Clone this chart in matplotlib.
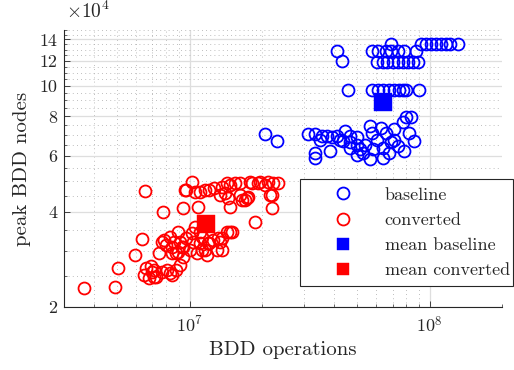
import matplotlib
matplotlib.use("Agg")
import matplotlib.pyplot as plt
from matplotlib.ticker import FixedLocator, NullFormatter, LogLocator

plt.rcParams['font.family'] = ['cmr10', 'DejaVu Serif']
plt.rcParams['mathtext.fontset'] = 'cm'
plt.rcParams['axes.formatter.use_mathtext'] = True

# ---- data ----
baseline_ops = [
    4.12e7, 4.32e7, 6.87e7,
    5.77e7, 6.12e7, 6.55e7, 6.87e7, 7.35e7, 7.78e7, 8.74e7,
    6.06e7, 6.36e7, 6.67e7, 7.00e7, 7.35e7, 7.71e7, 8.09e7, 8.49e7, 8.91e7,
    9.17e7, 9.62e7, 10.1e7, 10.6e7, 11.1e7, 11.7e7, 12.2e7, 13.1e7,
    4.58e7, 5.77e7, 6.12e7, 6.42e7, 6.74e7, 7.07e7, 7.42e7, 7.71e7, 7.94e7, 8.99e7,
    2.06e7, 2.31e7, 3.12e7, 3.33e7, 3.57e7, 3.74e7, 3.93e7, 4.12e7, 4.45e7, 4.67e7,
    5.00e7, 3.33e7, 3.33e7, 3.85e7, 4.67e7, 5.00e7, 5.14e7, 5.40e7, 5.66e7, 5.77e7,
    6.06e7, 6.24e7, 6.42e7, 6.55e7, 6.87e7, 6.74e7, 7.07e7, 7.35e7, 7.71e7, 7.94e7,
    8.33e7, 8.17e7, 8.57e7, 7.78e7, 5.66e7, 6.42e7, 5.30e7, 5.00e7, 7.07e7, 5.83e7,
    4.37e7, 4.67e7, 3.50e7, 4.24e7,
]
baseline_nodes = [
    12.9e4, 12.0e4, 13.5e4,
    12.9e4, 12.9e4, 12.9e4, 12.9e4, 12.9e4, 12.9e4, 12.9e4,
    11.9e4, 11.9e4, 11.9e4, 11.9e4, 11.9e4, 11.9e4, 11.9e4, 11.9e4, 11.9e4,
    13.5e4, 13.5e4, 13.5e4, 13.5e4, 13.5e4, 13.5e4, 13.5e4, 13.5e4,
    9.66e4, 9.66e4, 9.66e4, 9.66e4, 9.66e4, 9.66e4, 9.66e4, 9.66e4, 9.66e4, 9.66e4,
    7.02e4, 6.71e4, 7.02e4, 7.02e4, 6.92e4, 6.92e4, 6.87e4, 6.92e4, 7.17e4, 6.92e4,
    6.87e4, 6.15e4, 5.93e4, 6.20e4, 6.38e4, 6.52e4, 6.29e4, 6.52e4, 7.44e4, 7.11e4,
    6.76e4, 7.38e4, 6.38e4, 7.11e4, 6.62e4, 6.15e4, 7.28e4, 6.43e4, 7.66e4, 7.94e4,
    7.94e4, 7.11e4, 6.67e4, 6.20e4, 5.85e4, 5.93e4, 6.15e4, 6.06e4, 6.76e4, 6.29e4,
    6.67e4, 6.62e4, 6.76e4, 6.76e4,
]
converted_ops = [
    3.64e6, 4.90e6, 5.05e6, 5.94e6, 6.36e6, 6.54e6, 6.61e6, 6.48e6, 6.80e6, 7.14e6,
    7.28e6, 6.94e6, 7.71e6, 8.09e6, 8.41e6, 8.82e6, 9.08e6, 7.78e6, 7.49e6, 7.71e6,
    8.01e6, 8.25e6, 8.49e6, 8.91e6, 9.08e6, 9.35e6, 8.82e6, 9.35e6, 1.00e7, 1.03e7,
    1.05e7, 1.07e7, 1.10e7, 1.13e7, 1.18e7, 1.21e7, 1.25e7, 1.30e7, 1.36e7, 1.37e7,
    1.43e7, 1.47e7, 1.02e7, 9.71e6, 9.35e6, 1.08e7, 1.47e7, 1.87e7, 2.20e7, 9.71e6,
    1.02e7, 1.05e7, 1.10e7, 1.155e7, 1.21e7, 1.27e7, 1.335e7, 1.37e7, 1.43e7, 1.47e7,
    1.54e7, 1.44e7, 1.40e7, 1.62e7, 1.70e7, 1.75e7, 1.82e7, 1.93e7, 2.06e7, 2.12e7,
    2.23e7, 2.33e7, 2.16e7, 1.62e7, 8.65e6, 7.86e6, 8.25e6, 1.31e7, 1.335e7, 1.50e7,
    9.53e6, 1.13e7, 1.10e7, 1.19e7, 7.00e6, 7.14e6, 8.49e6, 8.91e6, 9.26e6, 1.155e7,
    1.65e7, 1.73e7, 1.96e7, 2.20e7, 1.78e7,
]
converted_nodes = [
    2.30e4, 2.31e4, 2.66e4, 2.92e4, 3.29e4, 4.66e4, 2.66e4, 2.53e4, 2.47e4, 2.62e4,
    2.49e4, 2.70e4, 2.58e4, 2.62e4, 2.53e4, 2.62e4, 2.72e4, 4.00e4, 2.97e4, 3.21e4,
    3.14e4, 3.33e4, 3.10e4, 3.46e4, 3.21e4, 3.10e4, 2.97e4, 2.88e4, 3.03e4, 3.21e4,
    3.58e4, 2.97e4, 3.19e4, 3.03e4, 2.92e4, 3.19e4, 3.26e4, 3.03e4, 3.03e4, 3.31e4,
    3.46e4, 3.46e4, 3.43e4, 3.31e4, 4.12e4, 4.15e4, 4.15e4, 3.72e4, 4.12e4, 4.70e4,
    4.98e4, 4.62e4, 4.62e4, 4.70e4, 4.70e4, 4.77e4, 4.53e4, 4.80e4, 4.94e4, 4.87e4,
    4.94e4, 4.43e4, 4.59e4, 4.53e4, 4.37e4, 4.46e4, 4.94e4, 4.94e4, 4.87e4, 4.98e4,
    4.94e4, 4.94e4, 4.53e4, 4.94e4, 3.21e4, 3.26e4, 2.56e4, 3.31e4, 3.21e4, 3.46e4,
    4.70e4, 3.33e4, 3.46e4, 3.19e4, 2.58e4, 2.49e4, 2.97e4, 2.99e4, 3.10e4, 3.03e4,
    4.37e4, 4.43e4, 4.98e4, 4.53e4, 4.98e4,
]
mean_baseline = (6.42e7, 8.86e4)
mean_converted = (1.167e7, 3.66e4)

series_labels = ['baseline', 'converted', 'mean baseline', 'mean converted']
y_major = [2e4, 4e4, 6e4, 8e4, 10e4, 12e4, 14e4]
y_major_labels = ['2', '4', '6', '8', '10', '12', '14']
y_minor = [2.5e4, 3e4, 3.5e4, 4.5e4, 5e4, 5.5e4, 6.5e4, 7e4, 7.5e4, 8.5e4, 9e4,
           9.5e4, 10.5e4, 11e4, 11.5e4, 12.5e4, 13e4, 13.5e4, 14.5e4, 15e4]
x_major = [1e7, 1e8]
x_major_labels = [r'$10^{7}$', r'$10^{8}$']

# ---- figure ----
fig = plt.figure(figsize=(5.14, 3.70), dpi=100)
ax = fig.add_axes([64/514, 63/370, 438/514, 277/370])
ax.set_xscale('log')
ax.set_yscale('log')
ax.set_xlim(3e6, 2e8)
ax.set_ylim(2e4, 1.5e5)

ax.plot(baseline_ops, baseline_nodes, 'o', ls='none', mfc='none', mec=(0, 0, 1),
        ms=8.6, mew=1.3, label=series_labels[0], zorder=3)
ax.plot(converted_ops, converted_nodes, 'o', ls='none', mfc='none', mec=(1, 0, 0),
        ms=8.6, mew=1.3, label=series_labels[1], zorder=3)
ax.plot([mean_baseline[0]], [mean_baseline[1]], 's', ls='none', color=(0, 0, 1),
        ms=12.5, mew=0.3, label=series_labels[2], zorder=4)
ax.plot([mean_converted[0]], [mean_converted[1]], 's', ls='none', color=(1, 0, 0),
        ms=12.5, mew=0.3, label=series_labels[3], zorder=4)

ax.yaxis.set_major_locator(FixedLocator(y_major))
ax.set_yticklabels(y_major_labels)
ax.yaxis.set_minor_locator(FixedLocator(y_minor))
ax.yaxis.set_minor_formatter(NullFormatter())
ax.xaxis.set_major_locator(FixedLocator(x_major))
ax.set_xticklabels(x_major_labels)
ax.xaxis.set_minor_locator(LogLocator(base=10, subs=[2, 3, 4, 5, 6, 7, 8, 9]))
ax.xaxis.set_minor_formatter(NullFormatter())

ax.set_axisbelow(True)
ax.grid(True, which='major', color='#dedede', lw=0.9, ls='-')
ax.grid(True, which='minor', color='#a8a8a8', lw=0.6, ls=(0, (1, 4)))

for s in ['top', 'right']:
    ax.spines[s].set_visible(False)
for s in ['left', 'bottom']:
    ax.spines[s].set_color('#262626')
    ax.spines[s].set_linewidth(0.8)
ax.tick_params(which='both', direction='in', colors='#262626', labelsize=13,
               top=False, right=False)
ax.tick_params(which='major', length=4, width=0.6)
ax.tick_params(which='minor', length=2.5, width=0.5)
ax.tick_params(axis='x', pad=6)
ax.tick_params(axis='y', pad=5)

ax.set_xlabel('BDD operations', fontsize=15, color='#262626', labelpad=4)
ax.set_ylabel('peak BDD nodes', fontsize=15, color='#262626', labelpad=6)
ax.text(0.005, 1.03, r'$\times10^{4}$', transform=ax.transAxes, fontsize=14,
        color='#262626', ha='left', va='bottom')

leg = ax.legend(loc='upper left', bbox_to_anchor=(300/514, 1 - 183/370, 213/514, 0.01),
                bbox_transform=fig.transFigure, mode='expand', fontsize=13,
                frameon=True, fancybox=False, framealpha=1, edgecolor='#262626',
                borderpad=0.43, handlelength=3.9, handletextpad=0.37, labelspacing=0.53,
                borderaxespad=0)
leg.get_frame().set_linewidth(0.8)
for h in leg.legend_handles[2:]:
    h.set_markersize(8)
for t in leg.get_texts():
    t.set_color('#262626')

fig.savefig('out.png', dpi=100)
